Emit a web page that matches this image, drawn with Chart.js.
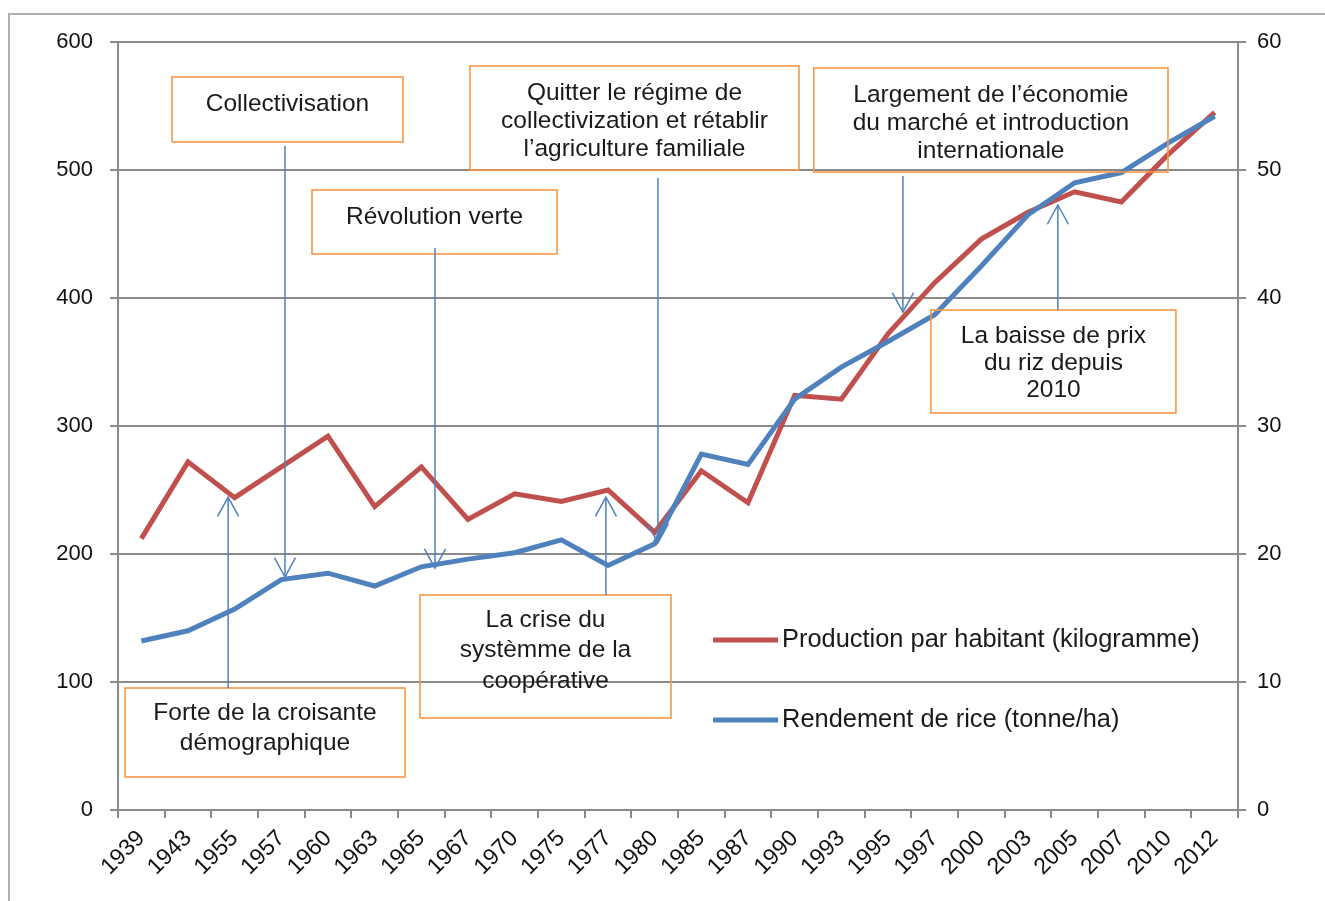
<!DOCTYPE html>
<html>
<head>
<meta charset="utf-8">
<script src="https://cdn.jsdelivr.net/npm/chart.js@4.4.1/dist/chart.umd.min.js"></script>
<style>
  html, body { margin: 0; padding: 0; background: #fff; }
  #wrap { position: relative; width: 1325px; height: 901px; }
</style>
</head>
<body>
<div id="wrap"><canvas id="c" width="1325" height="901"></canvas></div>
<script>
// ---- data ----
const years = ['1939','1943','1955','1957','1960','1963','1965','1967','1970','1975','1977','1980','1985','1987','1990','1993','1995','1997','2000','2003','2005','2007','2010','2012'];
const productionParHabitant = [212, 272, 244, 268, 292, 237, 268, 227, 247, 241, 250, 217, 265, 240, 324, 321, 372, 412, 446, 467, 483, 475, 512, 545];
const rendementRiz = [13.2, 14.0, 15.7, 18.0, 18.5, 17.5, 19.0, 19.6, 20.1, 21.1, 19.1, 20.8, 27.8, 27.0, 32.1, 34.6, 36.6, 38.7, 42.5, 46.5, 49.0, 49.8, 52.1, 54.2];
const leftTicks = [0, 100, 200, 300, 400, 500, 600];
const rightTicks = [0, 10, 20, 30, 40, 50, 60];
const seriesLabels = ['Production par habitant (kilogramme)', 'Rendement de rice (tonne/ha)'];

// annotations: boxes in (category index, left-axis value) space
const annotations = [
  { lines: ['Collectivisation'], box: [0.657, 572.7, 5.607, 521.9], textMid: 551.6, lh: 28,
    arrow: [3.078, 518.8, 3.078, 182] },
  { lines: ['Révolution verte'], box: [3.657, 484.4, 8.907, 434.4], textMid: 463.3, lh: 28,
    arrow: [6.293, 439, 6.293, 189] },
  { lines: ['Quitter le régime de', 'collectivization et rétablir', 'l\u2019agriculture familiale'],
    box: [7.043, 581.3, 14.093, 500], textMid: 538.3, lh: 28,
    arrow: [11.07, 493.8, 11.07, 208.6] },
  { lines: ['Largement de l\u2019économie', 'du marché et introduction', 'internationale'],
    box: [14.41, 579.7, 22.0, 498.4], textMid: 536.7, lh: 28,
    arrow: [16.32, 495.3, 16.32, 389] },
  { lines: ['La baisse de prix', 'du riz depuis', '2010'],
    box: [16.92, 390.6, 22.17, 310.2], textMid: 349.2, lh: 27,
    arrow: [19.64, 390.6, 19.64, 472.7] },
  { lines: ['La crise du', 'systèmme de la', 'coopérative'],
    box: [5.97, 168, 11.35, 71.9], textMid: 124.6, lh: 30.5,
    arrow: [9.955, 168, 9.955, 244.5] },
  { lines: ['Forte de la croisante', 'démographique'],
    box: [-0.35, 95.3, 5.65, 25.8], textMid: 64, lh: 30,
    arrow: [1.86, 95.3, 1.86, 244.5] }
];
const legendPos = { x: 13.73, y: [132.8, 70.3] }; // index / value space for legend rows

const RED = '#C0504D', BLUE = '#4F81BD', GRID = '#8a8a8a', ORANGE = '#F79646';
const FONT = '"Liberation Sans", Arial, sans-serif';
const TXT = 24.5;
const LEG = 25.4;

const annotPlugin = {
  id: 'annot',
  beforeDraw(chart) {
    const ctx = chart.ctx;
    ctx.save();
    ctx.fillStyle = '#fff';
    ctx.fillRect(0, 0, chart.width, chart.height);
    ctx.strokeStyle = '#b0b0b0';
    ctx.lineWidth = 2;
    ctx.beginPath();
    ctx.moveTo(9, chart.height);
    ctx.lineTo(9, 14);
    ctx.lineTo(chart.width, 14);
    ctx.stroke();
    ctx.restore();
  },
  afterDatasetsDraw(chart) {
    const ctx = chart.ctx;
    const xs = chart.scales.x, ys = chart.scales.y;
    const X = v => xs.getPixelForValue(v);
    const Y = v => ys.getPixelForValue(v);
    ctx.save();
    annotations.forEach(a => {
      const x0 = X(a.box[0]), y0 = Y(a.box[1]), x1 = X(a.box[2]), y1 = Y(a.box[3]);
      ctx.strokeStyle = ORANGE;
      ctx.lineWidth = 1.6;
      ctx.strokeRect(x0, y0, x1 - x0, y1 - y0);
      ctx.fillStyle = '#1a1a1a';
      ctx.font = TXT + 'px ' + FONT;
      ctx.textAlign = 'center';
      ctx.textBaseline = 'middle';
      const cx = (x0 + x1) / 2;
      const mid = Y(a.textMid);
      const n = a.lines.length;
      a.lines.forEach((t, i) => {
        ctx.fillText(t, cx, mid + (i - (n - 1) / 2) * a.lh);
      });
      const ax0 = X(a.arrow[0]), ay0 = Y(a.arrow[1]), ax1 = X(a.arrow[2]), ay1 = Y(a.arrow[3]);
      ctx.strokeStyle = BLUE;
      ctx.lineWidth = 1.5;
      ctx.beginPath();
      ctx.moveTo(ax0, ay0);
      ctx.lineTo(ax1, ay1);
      ctx.stroke();
      const ang = Math.atan2(ay1 - ay0, ax1 - ax0);
      const L = 22, hw = 0.5;
      ctx.beginPath();
      ctx.moveTo(ax1 - L * Math.cos(ang - hw), ay1 - L * Math.sin(ang - hw));
      ctx.lineTo(ax1, ay1);
      ctx.lineTo(ax1 - L * Math.cos(ang + hw), ay1 - L * Math.sin(ang + hw));
      ctx.stroke();
    });
    const lx = X(legendPos.x);
    const ds = chart.data.datasets;
    [0, 1].forEach(i => {
      const d = ds.find(dd => dd.label === seriesLabels[i]);
      const ly = Y(legendPos.y[i]);
      ctx.strokeStyle = d.borderColor;
      ctx.lineWidth = 5;
      ctx.beginPath();
      ctx.moveTo(lx - 69, ly);
      ctx.lineTo(lx - 4, ly);
      ctx.stroke();
      ctx.fillStyle = '#1a1a1a';
      ctx.font = LEG + 'px ' + FONT;
      ctx.textAlign = 'left';
      ctx.textBaseline = 'middle';
      ctx.fillText(d.label, lx, ly);
    });
    ctx.restore();
  }
};

new Chart(document.getElementById('c'), {
  type: 'line',
  data: {
    labels: years,
    datasets: [
      { label: seriesLabels[1], data: rendementRiz, yAxisID: 'y2', borderColor: BLUE, backgroundColor: BLUE,
        borderWidth: 5, pointRadius: 0, tension: 0, order: 0 },
      { label: seriesLabels[0], data: productionParHabitant, yAxisID: 'y', borderColor: RED, backgroundColor: RED,
        borderWidth: 5, pointRadius: 0, tension: 0, order: 1 }
    ]
  },
  options: {
    responsive: false,
    animation: false,
    devicePixelRatio: 1,
    layout: { padding: { top: 42, left: 0, right: 0, bottom: 0 } },
    plugins: { legend: { display: false }, tooltip: { enabled: false } },
    scales: {
      x: {
        type: 'category',
        offset: true,
        grid: { display: true, drawOnChartArea: false, offset: true, color: GRID, lineWidth: 2, tickLength: 8 },
        border: { display: true, color: GRID, width: 2 },
        ticks: { autoSkip: false, minRotation: 45, maxRotation: 45, color: '#111', padding: 7,
                 font: { family: FONT, size: 23 } },
        afterFit(s) { s.height = 91; }
      },
      y: {
        position: 'left',
        min: 0, max: 600,
        afterBuildTicks(s) { s.ticks = leftTicks.map(v => ({ value: v })); },
        grid: { color: GRID, lineWidth: 2, tickLength: 8 },
        border: { display: true, color: GRID, width: 2 },
        ticks: { color: '#111', padding: 17, font: { family: FONT, size: 22 } },
        afterFit(s) { s.width = 118; }
      },
      y2: {
        position: 'right',
        min: 0, max: 60,
        afterBuildTicks(s) { s.ticks = rightTicks.map(v => ({ value: v })); },
        grid: { drawOnChartArea: false, color: GRID, lineWidth: 2, tickLength: 8 },
        border: { display: true, color: GRID, width: 2 },
        ticks: { color: '#111', padding: 11, font: { family: FONT, size: 22 } },
        afterFit(s) { s.width = 87; }
      }
    }
  },
  plugins: [annotPlugin]
});
</script>
</body>
</html>
